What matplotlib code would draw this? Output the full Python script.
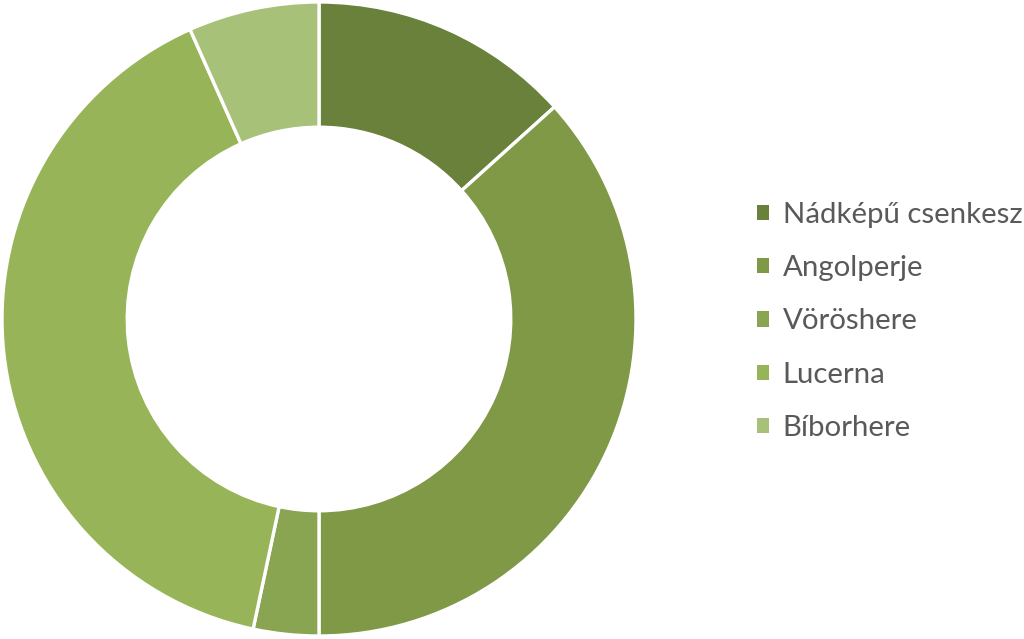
import matplotlib
matplotlib.use("Agg")
import matplotlib.pyplot as plt
from matplotlib.patches import Patch

categories = ["Nádképű csenkesz", "Angolperje", "Vöröshere", "Lucerna", "Bíborhere"]
values = [20, 55, 5, 60, 10]
colors = ["#6a813c", "#7f9947", "#89a551", "#97b558", "#a7c278"]

plt.rcParams['font.family'] = ['Lato', 'DejaVu Sans']

fig = plt.figure(figsize=(10.24, 6.39), dpi=100)
W, H = 1024, 639
cx, cy, r = 319, 319, 317
ax = fig.add_axes([(cx - r) / W, (H - cy - r) / H, 2 * r / W, 2 * r / H])
ax.pie(values, colors=colors, startangle=90, counterclock=False,
       radius=1.0, wedgeprops=dict(width=0.395, edgecolor="white", linewidth=2.4))
ax.set_xlim(-1, 1)
ax.set_ylim(-1, 1)
ax.set_aspect("equal")
ax.axis("off")

handles = [Patch(facecolor=c, edgecolor="none") for c in colors]
leg = fig.legend(handles, categories, loc="center left",
                 bbox_to_anchor=(757 / W, 0.497), frameon=False,
                 fontsize=21.2, labelcolor="#595959",
                 handlelength=0.42, handleheight=0.42, handletextpad=0.45,
                 labelspacing=0.93, borderpad=0, borderaxespad=0)

fig.savefig("out.png", dpi=100)
